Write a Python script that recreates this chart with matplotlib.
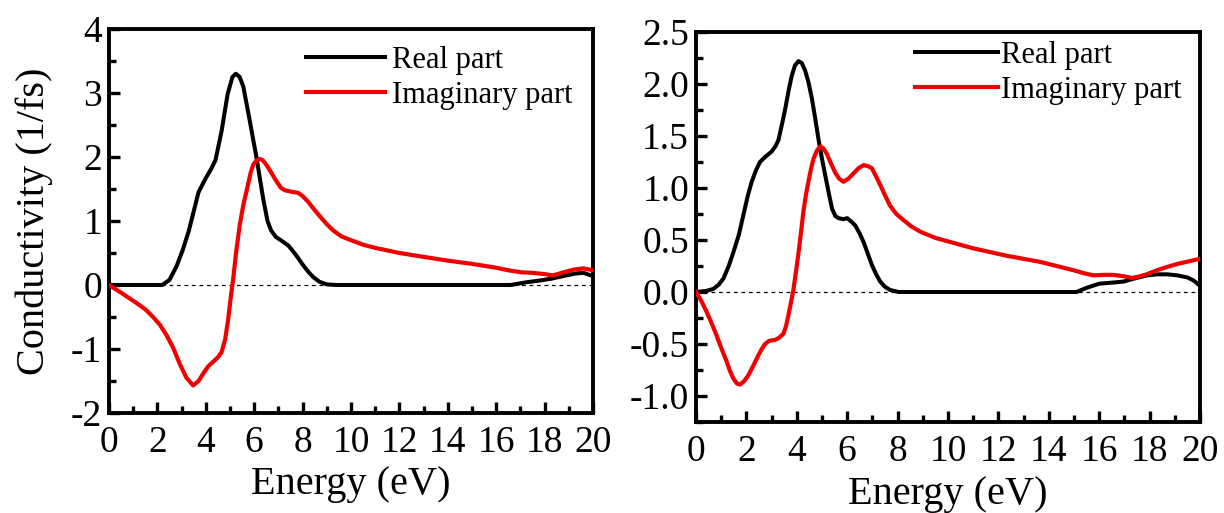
import matplotlib
matplotlib.use("Agg")
import matplotlib.pyplot as plt
from matplotlib.ticker import MultipleLocator

plt.rcParams['font.family'] = ['Liberation Serif', 'DejaVu Serif']

# left panel
left_real_x = [0, 2.2, 2.5, 2.8, 3.05, 3.3, 3.5, 3.7, 4.0, 4.2, 4.4, 4.65, 4.9, 5.1, 5.24, 5.4, 5.55,
               5.8, 6.1, 6.37, 6.55, 6.7, 6.9, 7.1, 7.4, 7.6, 7.8, 8.0, 8.25, 8.45, 8.7, 9.0, 9.4,
               16.6, 17.2, 17.8, 18.3, 18.9, 19.3, 19.6, 20]
left_real_y = [0, 0, 0.08, 0.3, 0.55, 0.85, 1.15, 1.45, 1.67, 1.8, 1.95, 2.4, 2.98, 3.25, 3.30, 3.25, 3.1,
               2.6, 1.98, 1.35, 1.0, 0.85, 0.75, 0.70, 0.62, 0.53, 0.43, 0.32, 0.2, 0.12, 0.05, 0.01, 0,
               0, 0.04, 0.07, 0.1, 0.15, 0.18, 0.19, 0.14]
left_imag_x = [0, 0.5, 1.13, 1.5, 1.82, 2.1, 2.37, 2.65, 2.92, 3.2, 3.48, 3.7, 3.9, 4.1, 4.3, 4.5, 4.65,
               4.8, 4.92, 5.03, 5.13, 5.25, 5.4, 5.55, 5.68, 5.85, 5.96, 6.1, 6.23, 6.35, 6.5, 6.7, 6.92,
               7.1, 7.27, 7.5, 7.82, 8.0, 8.23, 8.5, 8.79, 9.0, 9.27, 9.6, 10.0, 10.5, 11, 12, 13, 14,
               15, 16, 16.5, 17, 17.5, 18, 18.35, 18.8, 19.2, 19.6, 20]
left_imag_y = [0, -0.12, -0.28, -0.38, -0.5, -0.62, -0.78, -0.98, -1.23, -1.45, -1.57, -1.5, -1.38, -1.27,
               -1.2, -1.13, -1.05, -0.85, -0.55, -0.2, 0.09, 0.5, 0.93, 1.25, 1.46, 1.75, 1.88, 1.95, 1.97,
               1.95, 1.88, 1.76, 1.62, 1.52, 1.48, 1.46, 1.44, 1.39, 1.3, 1.17, 1.04, 0.95, 0.85, 0.76,
               0.7, 0.63, 0.58, 0.5, 0.44, 0.38, 0.33, 0.27, 0.23, 0.2, 0.19, 0.17, 0.15, 0.2, 0.24, 0.26,
               0.23]

# right panel
right_real_x = [0, 0.4, 0.69, 0.9, 1.09, 1.3, 1.48, 1.7, 1.88, 2.05, 2.21, 2.38, 2.54, 2.75, 3.0, 3.15,
                3.27, 3.4, 3.54, 3.67, 3.8, 3.93, 4.07, 4.2, 4.33, 4.46, 4.6, 4.73, 4.86, 5.0, 5.13, 5.27,
                5.4, 5.53, 5.66, 5.85, 6.0, 6.15, 6.32, 6.5, 6.65, 6.8, 6.98, 7.15, 7.31, 7.5, 7.7, 8.04,
                15.1, 15.5, 16.0, 16.5, 16.96, 17.4, 17.9, 18.3, 18.7, 19.1, 19.5, 19.75, 20]
right_real_y = [0, 0.01, 0.03, 0.07, 0.13, 0.25, 0.38, 0.55, 0.74, 0.92, 1.06, 1.17, 1.25, 1.3, 1.35, 1.4,
                1.46, 1.6, 1.76, 1.93, 2.08, 2.18, 2.22, 2.2, 2.13, 2.02, 1.86, 1.67, 1.47, 1.28, 1.12, 0.95,
                0.80, 0.73, 0.71, 0.70, 0.71, 0.68, 0.64, 0.56, 0.48, 0.38, 0.26, 0.17, 0.10, 0.05, 0.02, 0,
                0, 0.04, 0.08, 0.09, 0.10, 0.13, 0.16, 0.17, 0.17, 0.16, 0.14, 0.11, 0.06]
right_imag_x = [0, 0.2, 0.42, 0.62, 0.82, 1.02, 1.22, 1.35, 1.48, 1.62, 1.75, 1.9, 2.08, 2.25, 2.41, 2.58,
                2.74, 2.9, 3.14, 3.3, 3.47, 3.57, 3.67, 3.77, 3.87, 3.97, 4.07, 4.17, 4.26, 4.36, 4.46, 4.56,
                4.66, 4.8, 4.93, 5.06, 5.19, 5.35, 5.52, 5.68, 5.85, 6.05, 6.25, 6.45, 6.65, 6.82, 6.98,
                7.15, 7.31, 7.5, 7.7, 7.95, 8.24, 8.55, 8.9, 9.5, 10.1, 11.0, 12.3, 13.65, 14.97, 15.4,
                15.77, 16.2, 16.56, 17.0, 17.29, 17.6, 17.88, 18.3, 18.68, 19.1, 19.47, 20]
right_imag_y = [0, -0.08, -0.19, -0.3, -0.42, -0.55, -0.67, -0.76, -0.83, -0.88, -0.89, -0.86, -0.80,
                -0.72, -0.64, -0.56, -0.50, -0.47, -0.46, -0.44, -0.40, -0.33, -0.22, -0.1, 0.03, 0.2, 0.38,
                0.58, 0.77, 0.93, 1.06, 1.18, 1.28, 1.36, 1.40, 1.38, 1.33, 1.24, 1.15, 1.09, 1.06, 1.09,
                1.14, 1.19, 1.22, 1.21, 1.19, 1.11, 1.03, 0.93, 0.83, 0.75, 0.69, 0.63, 0.58, 0.52, 0.48,
                0.42, 0.35, 0.29, 0.21, 0.18, 0.16, 0.165, 0.165, 0.15, 0.135, 0.15, 0.17, 0.21, 0.24,
                0.27, 0.29, 0.32]

x_ticks = list(range(0, 21, 2))
left_yticks = [-2, -1, 0, 1, 2, 3, 4]
right_yticks = [-1.0, -0.5, 0.0, 0.5, 1.0, 1.5, 2.0, 2.5]

fig = plt.figure(figsize=(12.24, 5.13), dpi=100)
ax1 = fig.add_axes([109 / 1224, 1 - 413 / 513, 484 / 1224, 384 / 513])
ax2 = fig.add_axes([696 / 1224, 1 - 422 / 513, 504 / 1224, 390 / 513])


def style(ax, yticks, ylim, yminor, fmt, xlabelpad):
    ax.axhline(0, color='k', lw=0.9, ls=(0, (3, 3)), zorder=1)
    ax.set_xlim(0, 20)
    ax.set_ylim(*ylim)
    ax.set_xticks(x_ticks)
    ax.set_xticklabels([str(t) for t in x_ticks])
    ax.xaxis.set_minor_locator(MultipleLocator(1))
    ax.set_yticks(yticks)
    ax.set_yticklabels([fmt.format(t) for t in yticks])
    ax.yaxis.set_minor_locator(MultipleLocator(yminor))
    ax.tick_params(which='both', direction='in', top=False, right=False,
                   labelsize=27, width=2.4, pad=5)
    ax.tick_params(axis='x', pad=9)
    ax.tick_params(which='major', length=8)
    ax.tick_params(which='minor', length=5)
    for s in ax.spines.values():
        s.set_linewidth(2.8)
    ax.set_xlabel("Energy (eV)", fontsize=29, labelpad=xlabelpad)


ax1.plot(left_real_x, left_real_y, color='black', lw=2.9, label="Real part", zorder=3)
ax1.plot(left_imag_x, left_imag_y, color='#f00000', lw=3.0, label="Imaginary part", zorder=4)
style(ax1, left_yticks, (-2, 4), 0.5, "{:g}", 4)
ax1.set_ylabel("Conductivity (1/fs)", fontsize=29, labelpad=13)
ax1.legend(loc='upper left', bbox_to_anchor=(306 / 1224, 1 - 46 / 513), bbox_transform=fig.transFigure,
           frameon=False, fontsize=22, handlelength=2.6, handletextpad=0.2, borderpad=0,
           borderaxespad=0, labelspacing=0.2)

ax2.plot(right_real_x, right_real_y, color='black', lw=2.9, label="Real part", zorder=3)
ax2.plot(right_imag_x, right_imag_y, color='#f00000', lw=3.0, label="Imaginary part", zorder=4)
style(ax2, right_yticks, (-1.25, 2.5), 0.25, "{:.1f}", 5)
ax2.legend(loc='upper left', bbox_to_anchor=(915 / 1224, 1 - 41 / 513), bbox_transform=fig.transFigure,
           frameon=False, fontsize=22, handlelength=2.7, handletextpad=0.1, borderpad=0,
           borderaxespad=0, labelspacing=0.2)

fig.savefig("out.png", dpi=100)
